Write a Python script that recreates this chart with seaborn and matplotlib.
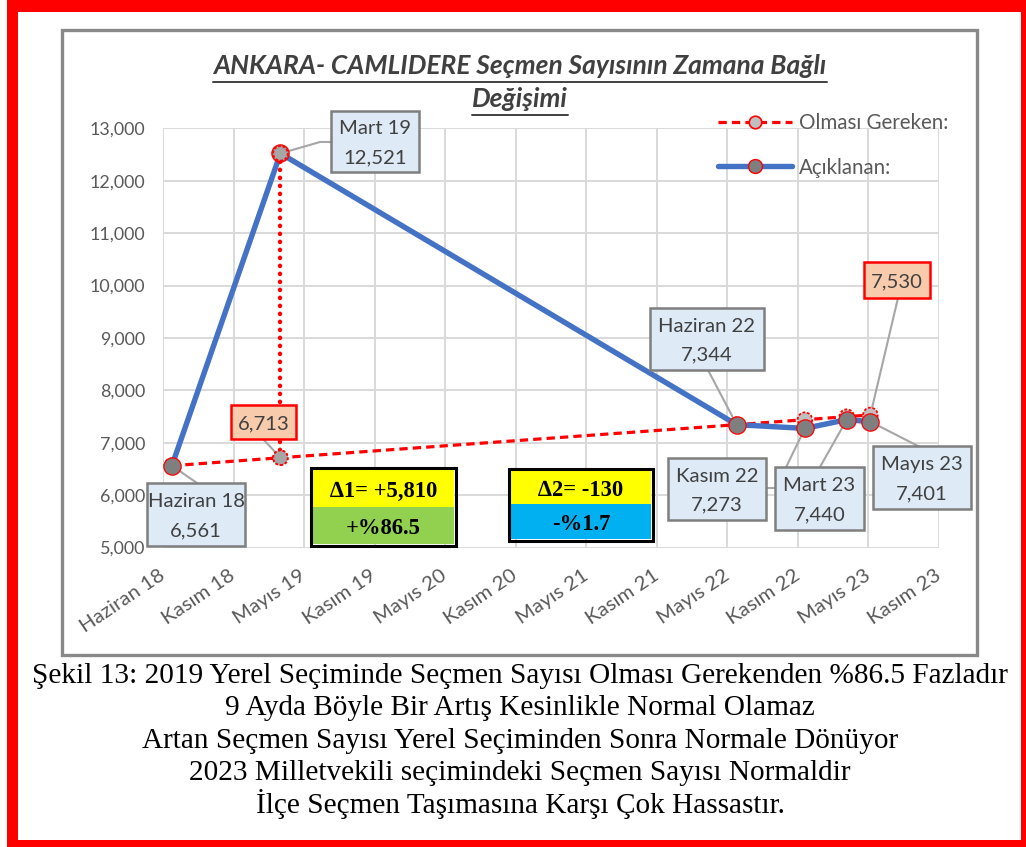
import matplotlib
matplotlib.use("Agg")
import matplotlib.pyplot as plt
import matplotlib.dates as mdates
from matplotlib.patches import Rectangle, ConnectionPatch
from matplotlib.lines import Line2D
from matplotlib.ticker import FuncFormatter
import seaborn as sns
import pandas as pd

# ---------------- data ----------------
point_names = ["Haziran 18", "Mart 19", "Haziran 22", "Kasım 22", "Mart 23", "Mayıs 23"]
point_dates = ["2018-06-24", "2019-03-31", "2022-06-20", "2022-12-13", "2023-03-31", "2023-05-31"]
aciklanan = [6561, 12521, 7344, 7273, 7440, 7401]
olmasi_gereken = [6561, 6713, 7344, 7439, 7497, 7530]

tick_labels = ["Haziran 18", "Kasım 18", "Mayıs 19", "Kasım 19", "Mayıs 20", "Kasım 20",
               "Mayıs 21", "Kasım 21", "Mayıs 22", "Kasım 22", "Mayıs 23", "Kasım 23"]
axis_start = "2018-06-01"
tick_step_days = 182
y_ticks = [5000, 6000, 7000, 8000, 9000, 10000, 11000, 12000, 13000]

delta_titles = ["∆1= +5,810", "∆2= -130"]
delta_pcts = ["+%86.5", "-%1.7"]

series_names = ["Olması Gereken:", "Açıklanan:"]
title_lines = ["ANKARA- CAMLIDERE Seçmen Sayısının Zamana Bağlı", "Değişimi"]
caption_lines = [
    "Şekil 13: 2019 Yerel Seçiminde Seçmen Sayısı Olması Gerekenden %86.5 Fazladır",
    "9 Ayda Böyle Bir Artış Kesinlikle Normal Olamaz",
    "Artan Seçmen Sayısı Yerel Seçiminden Sonra Normale Dönüyor",
    "2023 Milletvekili seçimindeki Seçmen Sayısı Normaldir",
    "İlçe Seçmen Taşımasına Karşı Çok Hassastır.",
]

# ---------------- setup ----------------
W, H = 1026, 847
sns.set_theme(style="white")
plt.rcParams["font.family"] = ["Lato", "DejaVu Sans"]

fig = plt.figure(figsize=(W / 100, H / 100), dpi=100)
fig.patch.set_facecolor("white")
renderer = fig.canvas.get_renderer()


def fx(x):
    return x / W


def fy(y):
    return 1 - y / H


def text_width(s, **kw):
    t = fig.text(0, 0, s, **kw)
    w = t.get_window_extent(renderer).width
    t.remove()
    return w


def fit_size(s, target, **kw):
    return 20 * target / text_width(s, fontsize=20, **kw)


SERIF = ["Liberation Serif", "DejaVu Serif"]
GRAYTXT = "#595959"
DARKTXT = "#404040"

ax = fig.add_axes([fx(163), fy(547.5), (939 - 163) / W, (547.5 - 128.3) / H])

df = pd.DataFrame({
    "Tarih": pd.to_datetime(point_dates),
    "Nokta": point_names,
    "Açıklanan": aciklanan,
    "Olması Gereken": olmasi_gereken,
})
df_jump = pd.DataFrame({
    "Tarih": [df["Tarih"][1], df["Tarih"][1]],
    "Değer": [olmasi_gereken[1], aciklanan[1]],
})

# red dashed expected line
sns.lineplot(data=df, x="Tarih", y="Olması Gereken", ax=ax, color="#FF0000", lw=2.3,
             ls=(0, (2.6, 1.6)), zorder=3, estimator=None)
sns.scatterplot(data=df, x="Tarih", y="Olması Gereken", ax=ax, s=110, color="#BFBFBF",
                edgecolor="#FF0000", linewidth=1.3, linestyle=(0, (1.5, 1)), zorder=3.5,
                legend=False)
# blue announced line
sns.lineplot(data=df, x="Tarih", y="Açıklanan", ax=ax, color="#4472C4", lw=3.9,
             zorder=4, estimator=None, solid_capstyle="round")
sns.scatterplot(data=df, x="Tarih", y="Açıklanan", ax=ax, s=155, color="#7F7F7F",
                edgecolor="#FF0000", linewidth=0.9, zorder=5, legend=False)
# dotted jump
sns.lineplot(data=df_jump, x="Tarih", y="Değer", ax=ax, color="#FF0000", lw=3.2,
             ls=(0, (0.05, 1.75)), dash_capstyle="round", zorder=6, estimator=None, sort=False)
sns.scatterplot(data=df_jump, x="Tarih", y="Değer", ax=ax, s=110, color="#A6A6A6",
                edgecolor="#FF0000", linewidth=1.3, linestyle=(0, (1.5, 1)), zorder=6.5,
                legend=False)

# axes
start = pd.Timestamp(axis_start)
tick_dates = [start + pd.Timedelta(days=tick_step_days * k) for k in range(len(tick_labels))]
ax.set_xlim(tick_dates[0], tick_dates[-1])
ax.set_ylim(y_ticks[0], y_ticks[-1])
ax.set_xticks(tick_dates)
ax.set_yticks(y_ticks)
ax.yaxis.set_major_formatter(FuncFormatter(lambda v, p: f"{int(v):,}"))
ax.set_xlabel("")
ax.set_ylabel("")
for s in ax.spines.values():
    s.set_visible(False)
ax.grid(True, color="#D9D9D9", lw=1.4)
ax.set_axisbelow(True)

ysz = fit_size("13,000", 56)
xsz = fit_size("Haziran 18", 98)
ax.tick_params(axis="y", length=0, pad=13, labelsize=ysz, labelcolor=GRAYTXT)
ax.tick_params(axis="x", length=0, pad=19, labelsize=xsz, labelcolor=GRAYTXT)
ax.set_xticklabels(tick_labels, rotation=34, ha="right", va="center", rotation_mode="anchor")

# ---------------- gray chart frame and red border ----------------
fig.add_artist(Rectangle((fx(62), fy(655)), (977 - 62) / W, (655 - 30) / H,
                         transform=fig.transFigure, fill=False, ec="#898989", lw=2.4, zorder=0))
for (x0, y0, x1, y1) in [(7, 0, 18, 847), (7, 0, 1026, 12), (1021, 0, 1026, 847), (7, 840, 1026, 847)]:
    fig.add_artist(Rectangle((fx(x0), fy(y1)), (x1 - x0) / W, (y1 - y0) / H,
                             transform=fig.transFigure, fc="#FF0000", ec="none", zorder=10))

# ---------------- title ----------------
tsz = fit_size(title_lines[0], 614, weight="bold", style="italic")
for line, base in zip(title_lines, [73.5, 107]):
    t = fig.text(fx(520), fy(base), line, ha="center", va="baseline", fontsize=tsz,
                 weight="bold", style="italic", color=DARKTXT)
    bb = t.get_window_extent(renderer)
    fig.add_artist(Line2D([bb.x0 / W, bb.x1 / W], [fy(base + 8.5)] * 2, transform=fig.transFigure,
                          color=DARKTXT, lw=1.4))

# ---------------- legend ----------------
handles = [
    Line2D([], [], color="#FF0000", lw=2.3, ls=(0, (2.6, 1.6)), marker="o", markersize=9,
           markerfacecolor="#BFBFBF", markeredgecolor="#FF0000", markeredgewidth=1.2),
    Line2D([], [], color="#4472C4", lw=3.9, marker="o", markersize=10,
           markerfacecolor="#7F7F7F", markeredgecolor="#FF0000", markeredgewidth=1),
]
lsz = fit_size(series_names[0], 150)
ax.legend(handles, series_names, loc="upper left", bbox_to_anchor=(fx(718), fy(113)),
          bbox_transform=fig.transFigure, frameon=False, fontsize=lsz, labelcolor=GRAYTXT,
          handlelength=3.6, handletextpad=0.35, labelspacing=1.2, borderpad=0, borderaxespad=0)

# ---------------- callouts ----------------
bsz = fit_size("Haziran 22", 97)
dnum = mdates.date2num(df["Tarih"])


def box(x0, y0, x1, y1, lines, fc="#DEEBF7", ec="#7F7F7F", z=8):
    ax.add_patch(Rectangle((fx(x0), fy(y1)), (x1 - x0) / W, (y1 - y0) / H,
                           transform=fig.transFigure, fc=fc, ec=ec, lw=1.8,
                           clip_on=False, zorder=z))
    cy = (y0 + y1) / 2
    offs = [0] if len(lines) == 1 else [-14.5, 14.5]
    for s, o in zip(lines, offs):
        ax.text(fx((x0 + x1) / 2), fy(cy + o), s, transform=fig.transFigure, ha="center",
                va="center_baseline", fontsize=bsz, color=DARKTXT, clip_on=False, zorder=z + 0.1)


def leader(pts, xd, yd):
    # pts: pixel points (box side first), last segment to the data point
    if len(pts) > 1:
        ax.add_line(Line2D([fx(p[0]) for p in pts], [fy(p[1]) for p in pts],
                           transform=fig.transFigure, color="#A6A6A6", lw=1.5,
                           clip_on=False, zorder=2))
    cp = ConnectionPatch(xyA=(fx(pts[-1][0]), fy(pts[-1][1])), coordsA=fig.transFigure,
                         xyB=(xd, yd), coordsB=ax.transData, color="#A6A6A6", lw=1.5,
                         zorder=2, clip_on=False)
    ax.add_artist(cp)


def lab(i, v):
    return [point_names[i], f"{v:,}"]


# Haziran 18
leader([(197, 483)], dnum[0], aciklanan[0])
box(147, 483, 245, 546, lab(0, aciklanan[0]))
# Mart 19
leader([(331, 142), (320, 142)], dnum[1], aciklanan[1])
box(331, 111, 419, 172, lab(1, aciklanan[1]))
# 6,713 expected
leader([(263, 439)], dnum[1], olmasi_gereken[1])
box(231, 405, 296, 439, [f"{olmasi_gereken[1]:,}"], fc="#F8CBAD", ec="#FF0000")
# Haziran 22
leader([(708, 370)], dnum[2], aciklanan[2])
box(650, 308, 764, 370, lab(2, aciklanan[2]))
# Kasım 22
leader([(767, 488), (776, 488)], dnum[3], aciklanan[3])
box(668, 458, 766, 520, lab(3, aciklanan[3]))
# Mart 23
leader([(820, 467)], dnum[4], aciklanan[4])
box(775, 467, 864, 530, lab(4, aciklanan[4]), z=8.5)
# Mayıs 23
leader([(918, 446)], dnum[5], aciklanan[5])
box(873, 446, 971, 509, lab(5, aciklanan[5]))
# 7,530 expected
leader([(898, 298)], dnum[5], olmasi_gereken[5])
box(864, 262, 930, 298, [f"{olmasi_gereken[5]:,}"], fc="#F8CBAD", ec="#FF0000")

# ---------------- delta boxes ----------------
dsz = fit_size(delta_titles[0], 107, family=SERIF, weight="bold")


def delta_box(x0, y0, x1, y1, ymid, top, bottom, bcol):
    ax.add_patch(Rectangle((fx(x0), fy(ymid)), (x1 - x0) / W, (ymid - y0) / H,
                           transform=fig.transFigure, fc="#FFFF00", ec="none", clip_on=False, zorder=8))
    ax.add_patch(Rectangle((fx(x0), fy(y1)), (x1 - x0) / W, (y1 - ymid) / H,
                           transform=fig.transFigure, fc=bcol, ec="none", clip_on=False, zorder=8))
    ax.add_patch(Rectangle((fx(x0 - 2), fy(y1 + 2)), (x1 - x0 + 4) / W, (y1 - y0 + 4) / H,
                           transform=fig.transFigure, fill=False, ec="black", lw=2.2,
                           clip_on=False, zorder=8.2))
    for s, yc in [(top, (y0 + ymid) / 2), (bottom, (ymid + y1) / 2)]:
        ax.text(fx((x0 + x1) / 2), fy(yc), s, transform=fig.transFigure, ha="center",
                va="center_baseline", fontsize=dsz, weight="bold", family=SERIF,
                color="black", clip_on=False, zorder=8.3)


delta_box(313, 470, 454, 544, 507, delta_titles[0], delta_pcts[0], "#92D050")
delta_box(511, 471, 651, 539, 504, delta_titles[1], delta_pcts[1], "#00B0F0")

# ---------------- caption ----------------
csz = fit_size(caption_lines[0], 976, family=SERIF)
for line, base in zip(caption_lines, [682.5, 715, 747.5, 780, 812.5]):
    fig.text(fx(520), fy(base), line, ha="center", va="baseline", fontsize=csz,
             family=SERIF, color="black")

fig.savefig("out.png", dpi=100, facecolor="white")
